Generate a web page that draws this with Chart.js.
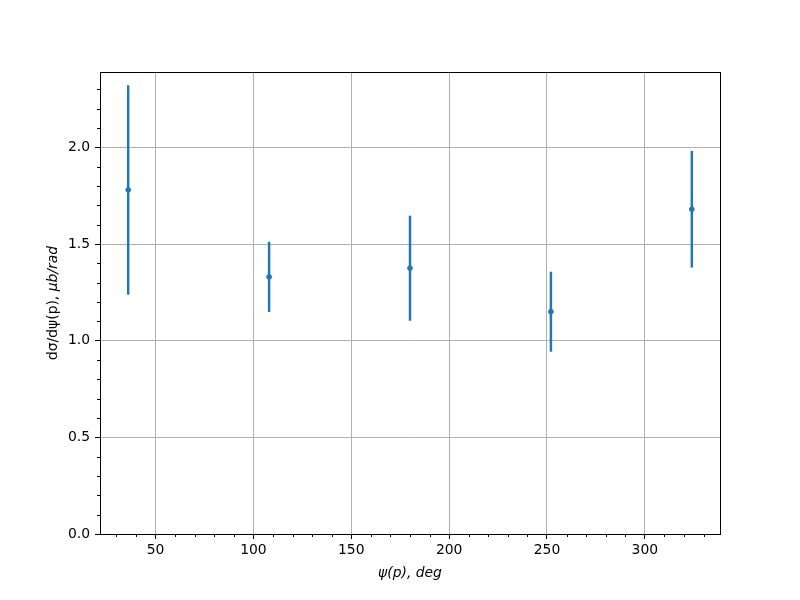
<!DOCTYPE html>
<html>
<head>
<meta charset="utf-8">
<script src="https://cdn.jsdelivr.net/npm/chart.js@4.4.0/dist/chart.umd.min.js"></script>
<style>
  html, body { margin: 0; padding: 0; background: white; }
  #wrap { width: 800px; height: 600px; }
</style>
</head>
<body>
<div id="wrap"><canvas id="myChart" width="800" height="600"></canvas></div>
<script>
/* data */
const angles = [36, 108, 180, 252, 324];
const values = [1.78, 1.33, 1.375, 1.15, 1.68];
const errors = [0.54, 0.18, 0.27, 0.205, 0.30];

const xMajor = 50;
const yMajor = 0.5;

const blue = '#1f77b4';
const font = 'DejaVu Sans';

// error bars as thin floating bars
const barData = angles.map((a, i) => ({ x: a, y: [values[i] - errors[i], values[i] + errors[i]] }));
const pointData = angles.map((a, i) => ({ x: a, y: values[i] }));

function isMajor(v, step) {
    if (v === undefined) return true;
    return Math.abs(v / step - Math.round(v / step)) < 1e-6;
}

function tickVal(c) {
    return c.tick ? c.tick.value : undefined;
}

/* frame on all four sides, minor ticks and the y title */
const extras = {
    id: 'extras',
    afterDraw(chart) {
        const ctx = chart.ctx;
        const a = chart.chartArea;
        ctx.save();
        ctx.strokeStyle = 'black';
        ctx.lineWidth = 1;
        // minor ticks
        ctx.beginPath();
        chart.scales.x.ticks.forEach(t => {
            if (!isMajor(t.value, xMajor)) {
                const px = Math.round(chart.scales.x.getPixelForValue(t.value)) + 0.5;
                ctx.moveTo(px, a.bottom);
                ctx.lineTo(px, a.bottom + 3);
            }
        });
        chart.scales.y.ticks.forEach(t => {
            if (!isMajor(t.value, yMajor)) {
                const py = Math.round(chart.scales.y.getPixelForValue(t.value)) + 0.5;
                ctx.moveTo(a.left, py);
                ctx.lineTo(a.left - 3, py);
            }
        });
        ctx.stroke();
        // frame
        ctx.strokeRect(Math.round(a.left) + 0.5, Math.round(a.top) + 0.5,
            Math.round(a.right - a.left), Math.round(a.bottom - a.top));

        // y title, plain part + italic part
        const p1 = 'dσ/dψ(p), ';
        const p2 = 'μb/rad';
        ctx.fillStyle = 'black';
        ctx.textBaseline = 'middle';
        ctx.font = '13.9px "' + font + '"';
        const w1 = ctx.measureText(p1).width;
        ctx.font = 'italic 13.9px "' + font + '"';
        const w2 = ctx.measureText(p2).width;
        ctx.translate(53, (a.top + a.bottom) / 2);
        ctx.rotate(-Math.PI / 2);
        ctx.textAlign = 'left';
        ctx.font = '13.9px "' + font + '"';
        ctx.fillText(p1, -(w1 + w2) / 2, 0);
        ctx.font = 'italic 13.9px "' + font + '"';
        ctx.fillText(p2, -(w1 + w2) / 2 + w1, 0);
        ctx.restore();
    }
};

var ctx = document.getElementById('myChart').getContext('2d');
var chart = new Chart(ctx, {
    type: 'scatter',
    data: {
        datasets: [
            {
                type: 'bar',
                label: 'errors',
                data: barData,
                backgroundColor: blue,
                borderWidth: 0,
                barThickness: 1.8,
                order: 2
            },
            {
                type: 'scatter',
                label: 'values',
                data: pointData,
                backgroundColor: blue,
                borderColor: blue,
                pointRadius: 2.4,
                pointHoverRadius: 2.4,
                order: 1
            }
        ]
    },
    options: {
        responsive: false,
        animation: false,
        layout: { padding: { top: 72, right: 80, left: 0, bottom: 11 } },
        plugins: {
            legend: { display: false },
            tooltip: { enabled: false }
        },
        scales: {
            x: {
                type: 'linear',
                min: 21.6,
                max: 338.4,
                offset: false,
                ticks: {
                    stepSize: 10,
                    includeBounds: false,
                    autoSkip: false,
                    maxRotation: 0,
                    padding: 3,
                    color: 'black',
                    font: { family: font, size: 13.9 },
                    callback: v => isMajor(v, xMajor) ? String(v) : ''
                },
                grid: {
                    offset: false,
                    color: c => isMajor(tickVal(c), xMajor) ? '#b0b0b0' : 'rgba(0,0,0,0)',
                    tickColor: c => isMajor(tickVal(c), xMajor) ? 'black' : 'rgba(0,0,0,0)',
                    tickLength: 5,
                    lineWidth: 1
                },
                border: { color: 'black', width: 1 },
                title: {
                    display: true,
                    text: 'ψ(p), deg',
                    color: 'black',
                    font: { family: font, size: 13.9, style: 'italic' },
                    padding: { top: 4, bottom: 7 }
                },
                afterFit: s => { s.height = 55; }
            },
            y: {
                type: 'linear',
                min: 0,
                max: 2.39,
                ticks: {
                    stepSize: 0.1,
                    includeBounds: false,
                    autoSkip: false,
                    padding: 5,
                    color: 'black',
                    font: { family: font, size: 13.9 },
                    callback: v => isMajor(v, yMajor) ? v.toFixed(1) : ''
                },
                grid: {
                    color: c => isMajor(tickVal(c), yMajor) ? '#b0b0b0' : 'rgba(0,0,0,0)',
                    tickColor: c => isMajor(tickVal(c), yMajor) ? 'black' : 'rgba(0,0,0,0)',
                    tickLength: 5,
                    lineWidth: 1
                },
                border: { color: 'black', width: 1 },
                afterFit: s => { s.width = 100; }
            }
        }
    },
    plugins: [extras]
});
</script>
</body>
</html>
